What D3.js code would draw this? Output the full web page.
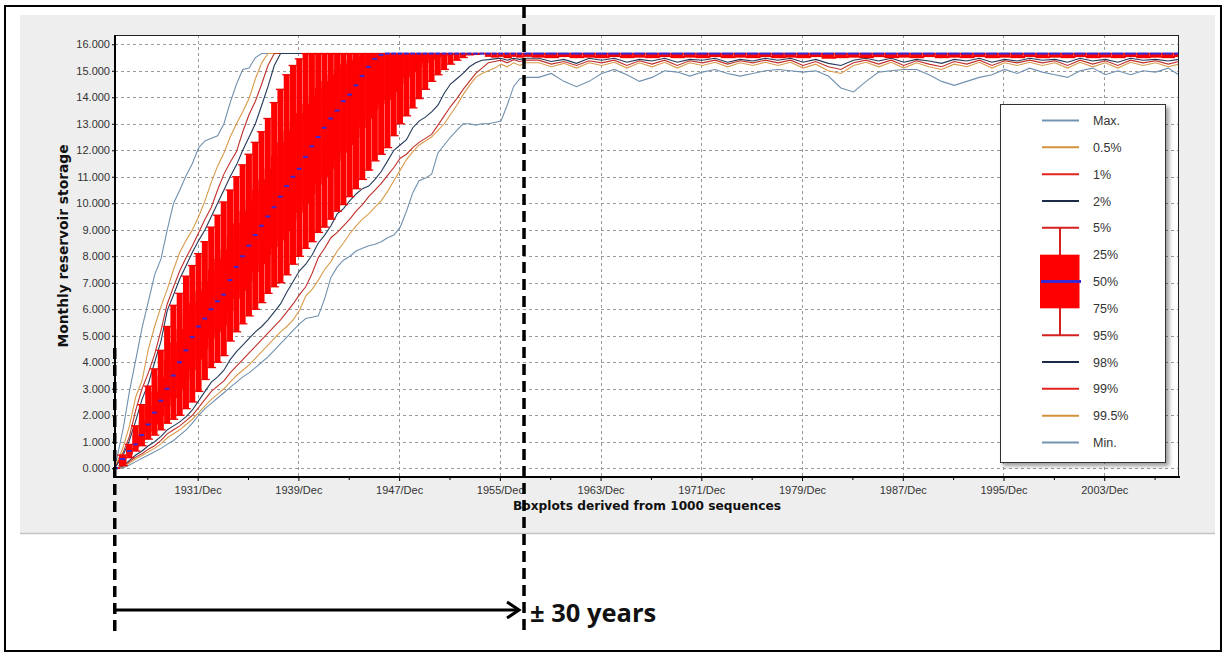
<!DOCTYPE html>
<html>
<head>
<meta charset="utf-8">
<script src="https://cdn.jsdelivr.net/npm/d3@7"></script>
<style>
  body { margin: 0; background: #fff; }
  svg { display: block; }
</style>
</head>
<body>
<svg id="chart" width="1227" height="657"></svg>
<script>
// sample dates: half-yearly while the reservoir fills, yearly once it is full
const dates = [
  '1925-05', '1926-01', '1926-07', '1927-01', '1927-07', '1928-01', '1928-07', '1929-01', '1929-07', '1930-01',
  '1930-07', '1931-01', '1931-07', '1932-01', '1932-07', '1933-01', '1933-07', '1934-01', '1934-07', '1935-01',
  '1935-07', '1936-01', '1936-07', '1937-01', '1937-07', '1938-01', '1938-07', '1939-01', '1939-07', '1940-01',
  '1940-07', '1941-01', '1941-07', '1942-01', '1942-07', '1943-01', '1943-07', '1944-01', '1944-07', '1945-01',
  '1945-07', '1946-01', '1946-07', '1947-01', '1947-07', '1948-01', '1948-07', '1949-01', '1949-07', '1950-01',
  '1950-07', '1951-01', '1951-07', '1952-01', '1952-07', '1953-01', '1953-07', '1954-01', '1954-07', '1955-01',
  '1955-07', '1956-01', '1956-07', '1957-01', '1957-07', '1958-01',
  '1959-01', '1960-01', '1961-01', '1962-01', '1963-01', '1964-01', '1965-01', '1966-01', '1967-01', '1968-01',
  '1969-01', '1970-01', '1971-01', '1972-01', '1973-01', '1974-01', '1975-01', '1976-01', '1977-01', '1978-01',
  '1979-01', '1980-01', '1981-01', '1982-01', '1983-01', '1984-01', '1985-01', '1986-01', '1987-01', '1988-01',
  '1989-01', '1990-01', '1991-01', '1992-01', '1993-01', '1994-01', '1995-01', '1996-01', '1997-01', '1998-01',
  '1999-01', '2000-01', '2001-01', '2002-01', '2003-01', '2004-01', '2005-01', '2006-01', '2007-01', '2008-01',
  '2009-01', '2009-11'
]

// storage, thousands
const pMax = [
  0, 1.5, 2.9, 4.1, 5.3, 6.3, 7.3, 7.9, 9.0, 10.0,
  10.5, 11.05, 11.5, 12.1, 12.35, 12.45, 12.55, 13.0, 13.8, 14.5,
  15.05, 15.1, 15.5, 15.65, 15.65, 15.65, 15.65, 15.65, 15.65, 15.65,
  15.65, 15.65, 15.65, 15.65, 15.65, 15.65, 15.65, 15.65, 15.65, 15.65,
  15.65, 15.65, 15.65, 15.65, 15.65, 15.65, 15.65, 15.65, 15.65, 15.65,
  15.65, 15.65, 15.65, 15.65, 15.65, 15.65, 15.65, 15.65, 15.65, 15.65,
  15.65, 15.65, 15.65, 15.65, 15.65, 15.65,
  15.65, 15.65, 15.65, 15.65, 15.65, 15.65, 15.65, 15.65, 15.65, 15.65,
  15.65, 15.65, 15.65, 15.65, 15.65, 15.65, 15.65, 15.65, 15.65, 15.65,
  15.65, 15.65, 15.65, 15.65, 15.65, 15.65, 15.65, 15.65, 15.65, 15.65,
  15.65, 15.65, 15.65, 15.65, 15.65, 15.65, 15.65, 15.65, 15.65, 15.65,
  15.65, 15.65, 15.65, 15.65, 15.65, 15.65, 15.65, 15.65, 15.65, 15.65,
  15.65, 15.65
]
const p0_5 = [
  0, 0.8, 1.6, 2.7, 3.3, 4.5, 5.35, 6.1, 6.75, 7.5,
  8.15, 8.6, 9.0, 9.5, 10.1, 10.8, 11.4, 11.9, 12.5, 13.0,
  13.45, 13.95, 14.7, 15.3, 15.65, 15.65, 15.65, 15.65, 15.65, 15.65,
  15.65, 15.65, 15.65, 15.65, 15.65, 15.65, 15.65, 15.65, 15.65, 15.65,
  15.65, 15.65, 15.65, 15.65, 15.65, 15.65, 15.65, 15.65, 15.65, 15.65,
  15.65, 15.65, 15.65, 15.65, 15.65, 15.65, 15.65, 15.65, 15.65, 15.65,
  15.65, 15.65, 15.65, 15.65, 15.65, 15.65,
  15.65, 15.65, 15.65, 15.65, 15.65, 15.65, 15.65, 15.65, 15.65, 15.65,
  15.65, 15.65, 15.65, 15.65, 15.65, 15.65, 15.65, 15.65, 15.65, 15.65,
  15.65, 15.65, 15.65, 15.65, 15.65, 15.65, 15.65, 15.65, 15.65, 15.65,
  15.65, 15.65, 15.65, 15.65, 15.65, 15.65, 15.65, 15.65, 15.65, 15.65,
  15.65, 15.65, 15.65, 15.65, 15.65, 15.65, 15.65, 15.65, 15.65, 15.65,
  15.65, 15.65
]
const p1 = [
  0, 0.6, 1.2, 2.2, 3.0, 3.6, 4.3, 5.2, 6.2, 6.85,
  7.45, 7.95, 8.4, 8.9, 9.4, 9.85, 10.5, 11.1, 11.55, 11.95,
  12.7, 13.35, 13.85, 14.5, 15.2, 15.65, 15.65, 15.65, 15.65, 15.65,
  15.65, 15.65, 15.65, 15.65, 15.65, 15.65, 15.65, 15.65, 15.65, 15.65,
  15.65, 15.65, 15.65, 15.65, 15.65, 15.65, 15.65, 15.65, 15.65, 15.65,
  15.65, 15.65, 15.65, 15.65, 15.65, 15.65, 15.65, 15.65, 15.65, 15.65,
  15.65, 15.65, 15.65, 15.65, 15.65, 15.65,
  15.65, 15.65, 15.65, 15.65, 15.65, 15.65, 15.65, 15.65, 15.65, 15.65,
  15.65, 15.65, 15.65, 15.65, 15.65, 15.65, 15.65, 15.65, 15.65, 15.65,
  15.65, 15.65, 15.65, 15.65, 15.65, 15.65, 15.65, 15.65, 15.65, 15.65,
  15.65, 15.65, 15.65, 15.65, 15.65, 15.65, 15.65, 15.65, 15.65, 15.65,
  15.65, 15.65, 15.65, 15.65, 15.65, 15.65, 15.65, 15.65, 15.65, 15.65,
  15.65, 15.65
]
const p2 = [
  0, 0.5, 1.05, 1.8, 2.6, 3.2, 4.0, 4.8, 5.95, 6.55,
  7.15, 7.65, 8.15, 8.6, 9.0, 9.5, 10.0, 10.5, 11.0, 11.45,
  12.0, 12.5, 13.0, 13.7, 14.4, 15.2, 15.65, 15.65, 15.65, 15.65,
  15.65, 15.65, 15.65, 15.65, 15.65, 15.65, 15.65, 15.65, 15.65, 15.65,
  15.65, 15.65, 15.65, 15.65, 15.65, 15.65, 15.65, 15.65, 15.65, 15.65,
  15.65, 15.65, 15.65, 15.65, 15.65, 15.65, 15.65, 15.65, 15.65, 15.65,
  15.65, 15.65, 15.65, 15.65, 15.65, 15.65,
  15.65, 15.65, 15.65, 15.65, 15.65, 15.65, 15.65, 15.65, 15.65, 15.65,
  15.65, 15.65, 15.65, 15.65, 15.65, 15.65, 15.65, 15.65, 15.65, 15.65,
  15.65, 15.65, 15.65, 15.65, 15.65, 15.65, 15.65, 15.65, 15.65, 15.65,
  15.65, 15.65, 15.65, 15.65, 15.65, 15.65, 15.65, 15.65, 15.65, 15.65,
  15.65, 15.65, 15.65, 15.65, 15.65, 15.65, 15.65, 15.65, 15.65, 15.65,
  15.65, 15.65
]
const p5 = [
  0, 0.5, 0.9, 1.6, 2.4, 3.1, 3.75, 4.45, 5.35, 6.15,
  6.6, 7.25, 7.65, 8.1, 8.55, 9.1, 9.55, 10.05, 10.5, 11.0,
  11.45, 11.85, 12.3, 12.7, 13.2, 13.8, 14.3, 14.85, 15.2, 15.45,
  15.65, 15.65, 15.65, 15.65, 15.65, 15.65, 15.65, 15.65, 15.65, 15.65,
  15.65, 15.65, 15.65, 15.65, 15.65, 15.65, 15.65, 15.65, 15.65, 15.65,
  15.65, 15.65, 15.65, 15.65, 15.65, 15.65, 15.65, 15.65, 15.65, 15.65,
  15.65, 15.65, 15.65, 15.65, 15.65, 15.65,
  15.65, 15.65, 15.65, 15.65, 15.65, 15.65, 15.65, 15.65, 15.65, 15.65,
  15.65, 15.65, 15.65, 15.65, 15.65, 15.65, 15.65, 15.65, 15.65, 15.65,
  15.65, 15.65, 15.65, 15.65, 15.65, 15.65, 15.65, 15.65, 15.65, 15.65,
  15.65, 15.65, 15.65, 15.65, 15.65, 15.65, 15.65, 15.65, 15.65, 15.65,
  15.65, 15.65, 15.65, 15.65, 15.65, 15.65, 15.65, 15.65, 15.65, 15.65,
  15.65, 15.65
]
const p25 = [
  0, 0.42, 0.78, 1.25, 1.8, 2.35, 2.9, 3.45, 4.1, 4.75,
  5.25, 5.8, 6.25, 6.7, 7.05, 7.5, 7.9, 8.25, 8.75, 9.25,
  9.7, 10.1, 10.5, 10.9, 11.3, 11.8, 12.3, 12.75, 13.1, 13.4,
  13.75, 14.05, 14.35, 14.6, 14.85, 15.05, 15.25, 15.4, 15.5, 15.58,
  15.63, 15.65, 15.65, 15.65, 15.65, 15.65, 15.65, 15.65, 15.65, 15.65,
  15.65, 15.65, 15.65, 15.65, 15.65, 15.65, 15.65, 15.65, 15.65, 15.65,
  15.65, 15.65, 15.65, 15.65, 15.65, 15.65,
  15.65, 15.65, 15.65, 15.65, 15.65, 15.65, 15.65, 15.65, 15.65, 15.65,
  15.65, 15.65, 15.65, 15.65, 15.65, 15.65, 15.65, 15.65, 15.65, 15.65,
  15.65, 15.65, 15.65, 15.65, 15.65, 15.65, 15.65, 15.65, 15.65, 15.65,
  15.65, 15.65, 15.65, 15.65, 15.65, 15.65, 15.65, 15.65, 15.65, 15.65,
  15.65, 15.65, 15.65, 15.65, 15.65, 15.65, 15.65, 15.65, 15.65, 15.65,
  15.65, 15.65
]
const p50 = [
  0, 0.35, 0.65, 0.9, 1.25, 1.65, 2.1, 2.55, 3.0, 3.5,
  4.0, 4.45, 4.95, 5.35, 5.65, 6.0, 6.3, 6.55, 7.1, 7.6,
  8.0, 8.4, 8.8, 9.15, 9.5, 9.85, 10.25, 10.65, 11.0, 11.3,
  11.75, 12.15, 12.5, 12.85, 13.2, 13.5, 13.85, 14.1, 14.45, 14.8,
  15.15, 15.45, 15.6, 15.65, 15.65, 15.65, 15.65, 15.65, 15.65, 15.65,
  15.65, 15.65, 15.65, 15.65, 15.65, 15.65, 15.65, 15.65, 15.65, 15.65,
  15.65, 15.65, 15.65, 15.65, 15.65, 15.65,
  15.65, 15.65, 15.65, 15.65, 15.65, 15.65, 15.65, 15.65, 15.65, 15.65,
  15.65, 15.65, 15.65, 15.65, 15.65, 15.65, 15.65, 15.65, 15.65, 15.65,
  15.65, 15.65, 15.65, 15.65, 15.65, 15.65, 15.65, 15.65, 15.65, 15.65,
  15.65, 15.65, 15.65, 15.65, 15.65, 15.65, 15.65, 15.65, 15.65, 15.65,
  15.65, 15.65, 15.65, 15.65, 15.65, 15.65, 15.65, 15.65, 15.65, 15.65,
  15.65, 15.65
]
const p75 = [
  0, 0.2, 0.52, 0.78, 1.05, 1.35, 1.65, 2.0, 2.35, 2.65,
  3.0, 3.35, 3.7, 4.1, 4.5, 4.9, 5.15, 5.4, 5.95, 6.4,
  6.7, 7.05, 7.4, 7.7, 8.05, 8.35, 8.6, 8.95, 9.35, 9.65,
  10.0, 10.35, 10.7, 11.0, 11.3, 11.6, 11.9, 12.2, 12.5, 12.85,
  13.2, 13.55, 13.75, 13.9, 14.2, 14.5, 14.75, 14.95, 15.15, 15.3,
  15.42, 15.5, 15.56, 15.6, 15.62, 15.64, 15.65, 15.65, 15.65, 15.65,
  15.65, 15.65, 15.65, 15.65, 15.65, 15.65,
  15.65, 15.65, 15.65, 15.65, 15.65, 15.65, 15.65, 15.65, 15.65, 15.65,
  15.65, 15.65, 15.65, 15.65, 15.65, 15.65, 15.65, 15.65, 15.65, 15.65,
  15.65, 15.65, 15.65, 15.65, 15.65, 15.65, 15.65, 15.65, 15.65, 15.65,
  15.65, 15.65, 15.65, 15.65, 15.65, 15.65, 15.65, 15.65, 15.65, 15.65,
  15.65, 15.65, 15.65, 15.65, 15.65, 15.65, 15.65, 15.65, 15.65, 15.65,
  15.65, 15.65
]
const p95 = [
  0, 0.1, 0.4, 0.65, 0.85, 1.1, 1.25, 1.45, 1.7, 1.85,
  2.0, 2.25, 2.5, 2.9, 3.35, 3.8, 4.0, 4.25, 4.8, 5.15,
  5.45, 5.75, 6.0, 6.25, 6.6, 6.85, 7.0, 7.3, 7.7, 8.0,
  8.3, 8.55, 8.9, 9.1, 9.4, 9.7, 9.95, 10.25, 10.55, 10.9,
  11.25, 11.6, 11.85, 12.1, 12.55, 13.0, 13.3, 13.6, 13.95, 14.3,
  14.6, 14.85, 15.05, 15.25, 15.4, 15.5, 15.6, 15.62, 15.65, 15.55,
  15.52, 15.55, 15.5, 15.55, 15.52, 15.55,
  15.52, 15.5, 15.54, 15.5, 15.52, 15.5, 15.54, 15.5, 15.52, 15.5,
  15.54, 15.5, 15.52, 15.5, 15.54, 15.5, 15.52, 15.5, 15.54, 15.5,
  15.52, 15.5, 15.54, 15.48, 15.5, 15.52, 15.5, 15.54, 15.5, 15.52,
  15.5, 15.54, 15.5, 15.52, 15.5, 15.54, 15.5, 15.52, 15.5, 15.54,
  15.5, 15.52, 15.5, 15.54, 15.5, 15.52, 15.5, 15.54, 15.5, 15.52,
  15.5, 15.54
]
const p98 = [
  0, 0.08, 0.3, 0.5, 0.65, 0.85, 1.0, 1.2, 1.45, 1.6,
  1.75, 1.95, 2.2, 2.55, 2.9, 3.25, 3.45, 3.7, 4.1, 4.4,
  4.65, 4.9, 5.15, 5.35, 5.6, 5.9, 6.2, 6.65, 7.05, 7.45,
  7.7, 8.05, 8.5, 8.8, 9.15, 9.6, 9.8, 10.1, 10.35, 10.55,
  10.65, 10.9, 11.2, 11.6, 12.0, 12.2, 12.4, 12.85, 13.1, 13.25,
  13.45, 13.7, 14.15, 14.5, 14.7, 14.9, 15.15, 15.3, 15.4, 15.42,
  15.45, 15.47, 15.4, 15.47, 15.43, 15.47,
  15.47, 15.35, 15.43, 15.28, 15.47, 15.4, 15.47, 15.32, 15.43, 15.37,
  15.47, 15.32, 15.43, 15.4, 15.47, 15.32, 15.43, 15.37, 15.47, 15.4,
  15.47, 15.32, 15.43, 15.28, 15.2, 15.4, 15.47, 15.37, 15.47, 15.32,
  15.43, 15.37, 15.28, 15.43, 15.37, 15.47, 15.32, 15.43, 15.37, 15.47,
  15.4, 15.43, 15.32, 15.47, 15.37, 15.43, 15.32, 15.47, 15.4, 15.43,
  15.37, 15.43
]
const p99 = [
  0, 0.06, 0.25, 0.42, 0.55, 0.72, 0.85, 1.05, 1.3, 1.45,
  1.6, 1.8, 2.0, 2.3, 2.6, 2.9, 3.1, 3.3, 3.6, 3.85,
  4.1, 4.35, 4.6, 4.85, 5.1, 5.35, 5.6, 5.9, 6.2, 6.55,
  6.85, 7.35, 7.95, 8.3, 8.7, 8.9, 9.15, 9.4, 9.7, 9.95,
  10.25, 10.5, 10.75, 11.05, 11.35, 11.7, 11.85, 12.1, 12.3, 12.45,
  12.6, 12.95, 13.3, 13.65, 13.95, 14.3, 14.6, 14.9, 15.1, 15.3,
  15.35, 15.4, 15.3, 15.42, 15.35, 15.4,
  15.4, 15.25, 15.35, 15.2, 15.38, 15.3, 15.4, 15.2, 15.38, 15.25,
  15.4, 15.2, 15.38, 15.3, 15.4, 15.25, 15.38, 15.3, 15.4, 15.3,
  15.4, 15.2, 15.35, 15.15, 15.05, 15.3, 15.4, 15.25, 15.4, 15.2,
  15.38, 15.25, 15.15, 15.35, 15.25, 15.4, 15.2, 15.38, 15.3, 15.4,
  15.3, 15.38, 15.2, 15.4, 15.25, 15.38, 15.2, 15.4, 15.3, 15.38,
  15.25, 15.35
]
const p99_5 = [
  0, 0.04, 0.2, 0.36, 0.48, 0.62, 0.75, 0.92, 1.15, 1.3,
  1.45, 1.65, 1.85, 2.1, 2.35, 2.6, 2.8, 3.0, 3.25, 3.5,
  3.7, 3.9, 4.15, 4.4, 4.65, 4.9, 5.15, 5.35, 5.6, 5.95,
  6.5, 6.75, 7.1, 7.5, 7.8, 8.2, 8.5, 8.85, 9.15, 9.4,
  9.6, 9.85, 10.1, 10.45, 10.85, 11.25, 11.65, 11.95, 12.2, 12.35,
  12.5, 12.75, 13.0, 13.35, 13.7, 14.1, 14.45, 14.75, 14.9, 15.0,
  15.1, 15.25, 15.15, 15.3, 15.2, 15.3,
  15.3, 15.15, 15.28, 15.1, 15.3, 15.2, 15.32, 15.1, 15.3, 15.15,
  15.32, 15.1, 15.3, 15.2, 15.32, 15.15, 15.3, 15.2, 15.32, 15.2,
  15.32, 15.1, 15.25, 15.0, 14.9, 15.2, 15.32, 15.15, 15.32, 15.1,
  15.3, 15.15, 15.05, 15.25, 15.15, 15.32, 15.1, 15.3, 15.2, 15.32,
  15.2, 15.3, 15.1, 15.32, 15.15, 15.3, 15.1, 15.32, 15.2, 15.3,
  15.15, 15.25
]
const pMin = [
  0, 0.02, 0.12, 0.25, 0.38, 0.5, 0.62, 0.75, 0.9, 1.05,
  1.25, 1.45, 1.7, 2.0, 2.25, 2.45, 2.65, 2.85, 3.05, 3.25,
  3.45, 3.6, 3.8, 4.0, 4.2, 4.45, 4.7, 4.95, 5.2, 5.45,
  5.65, 5.7, 5.75, 6.4, 7.2, 7.6, 7.85, 8.0, 8.2, 8.3,
  8.4, 8.45, 8.55, 8.7, 8.8, 9.1, 9.7, 10.4, 10.85, 10.95,
  11.1, 11.9, 12.2, 12.5, 12.75, 13.0, 13.0, 12.95, 13.0, 13.0,
  13.05, 13.1, 13.7, 14.4, 14.7, 14.75,
  14.75, 14.9, 14.6, 14.4, 14.6, 14.9, 15.05, 14.85, 14.6, 14.75,
  15.0, 14.95, 14.8, 14.95, 15.05, 14.9, 14.8, 14.9, 15.0, 15.05,
  15.0, 14.95, 15.0, 14.8, 14.35, 14.2, 14.6, 14.95, 15.0, 15.05,
  15.05, 14.85, 14.6, 14.45, 14.6, 14.75, 14.85, 15.05, 14.9, 15.1,
  14.95, 14.85, 14.75, 15.0, 15.1, 14.85, 15.0, 14.85, 15.0, 14.95,
  15.1, 14.85
]

const yTickValues = [0, 1, 2, 3, 4, 5, 6, 7, 8, 9, 10, 11, 12, 13, 14, 15, 16]
const xMajorTicks = ['1931-12', '1939-12', '1947-12', '1955-12', '1963-12', '1971-12', '1979-12', '1987-12', '1995-12', '2003-12']
const xMinorTicks = ['1927-12', '1935-12', '1943-12', '1951-12', '1959-12', '1967-12', '1975-12', '1983-12', '1991-12', '1999-12', '2007-12']
const legendLabels = ['Max.', '0.5%', '1%', '2%', '5%', '25%', '50%', '75%', '95%', '98%', '99%', '99.5%', 'Min.']
const spanDates = ['1925-05', '1957-11'] // the "± 30 years" filling period

const STEEL = '#7090ae'
const TAN = '#d99a4a'
const RED = '#c0302a'
const NAVY = '#24395a'

const lineSeries = [
  { name: 'Max.', values: pMax, color: STEEL, legend: '#7393b3' },
  { name: '0.5%', values: p0_5, color: TAN, legend: '#d4913a' },
  { name: '1%', values: p1, color: RED, legend: '#e3231c' },
  { name: '2%', values: p2, color: NAVY, legend: '#1c2c48' },
  { name: '98%', values: p98, color: NAVY, legend: '#1c2c48' },
  { name: '99%', values: p99, color: RED, legend: '#e3231c' },
  { name: '99.5%', values: p99_5, color: TAN, legend: '#d4913a' },
  { name: 'Min.', values: pMin, color: STEEL, legend: '#7393b3' }
]

const parseMonth = d3.timeParse('%Y-%m')
const dateObjs = dates.map(parseMonth)

const x = d3.scaleTime()
  .domain([new Date(1925, 4, 8), new Date(2009, 10, 8)])
  .range([115, 1179])
const y = d3.scaleLinear()
  .domain([-0.33, 16.35])
  .range([477, 35])

const svg = d3.select('#chart')
const defs = svg.append('defs')
defs.append('clipPath').attr('id', 'plot-clip')
  .append('rect').attr('x', 115).attr('y', 35).attr('width', 1064).attr('height', 442)
defs.append('filter').attr('id', 'shadow')
  .attr('x', '-10%').attr('y', '-10%').attr('width', '130%').attr('height', '130%')
  .append('feDropShadow')
  .attr('dx', 3).attr('dy', 3).attr('stdDeviation', 2)
  .attr('flood-color', '#000').attr('flood-opacity', 0.4)

// page frame + grey chart panel
svg.append('rect').attr('x', 5).attr('y', 6).attr('width', 1216).attr('height', 645)
  .attr('fill', '#fff').attr('stroke', '#000').attr('stroke-width', 2)
svg.append('rect').attr('x', 20).attr('y', 15).attr('width', 1195).attr('height', 518).attr('fill', '#eeeeee')
svg.append('line').attr('x1', 20).attr('x2', 1215).attr('y1', 533.5).attr('y2', 533.5)
  .attr('stroke', '#c4c4c4').attr('stroke-width', 1.5)
svg.append('rect').attr('x', 115).attr('y', 35).attr('width', 1064).attr('height', 442).attr('fill', '#fff')

// grid
const grid = svg.append('g').attr('stroke', '#9a9a9a').attr('stroke-width', 1).attr('stroke-dasharray', '3,3')
grid.append('g').selectAll('line').data(yTickValues).join('line')
  .attr('x1', 115).attr('x2', 1179)
  .attr('y1', d => Math.round(y(d)) + 0.5).attr('y2', d => Math.round(y(d)) + 0.5)
grid.append('g').selectAll('line').data(xMajorTicks.map(parseMonth)).join('line')
  .attr('x1', d => Math.round(x(d)) + 0.5).attr('x2', d => Math.round(x(d)) + 0.5)
  .attr('y1', 35).attr('y2', 477)

// data
const plot = svg.append('g').attr('clip-path', 'url(#plot-clip)')
const line = d3.line().x(d => x(d.date)).y(d => y(d.v))
lineSeries.forEach(s => {
  plot.append('path')
    .datum(dateObjs.map((d, i) => ({ date: d, v: s.values[i] })))
    .attr('d', line)
    .attr('fill', 'none')
    .attr('stroke', s.color)
    .attr('stroke-width', 1.1)
})

const xs = dateObjs.map(d => x(d))
const n = xs.length
const boxes = dateObjs.map((d, i) => ({
  cx: xs[i],
  xl: i > 0 ? (xs[i - 1] + xs[i]) / 2 : xs[i] - 3,
  xr: i < n - 1 ? (xs[i] + xs[i + 1]) / 2 : xs[i] + 8,
  hi: p5[i], q1: p25[i], med: p50[i], q3: p75[i], lo: p95[i]
}))
const bp = plot.append('g')
// whiskers leave a faint hairline between periods, boxes close up
bp.selectAll('rect.whisker').data(boxes).join('rect').attr('class', 'whisker')
  .attr('x', d => d.xl).attr('width', d => Math.max(0.5, d.xr - d.xl - 0.3))
  .attr('y', d => y(d.hi)).attr('height', d => Math.max(0.5, y(d.lo) - y(d.hi)))
  .attr('fill', '#ff0000')
bp.selectAll('rect.box').data(boxes).join('rect').attr('class', 'box')
  .attr('x', d => d.xl - 0.2).attr('width', d => d.xr - d.xl + 0.4)
  .attr('y', d => y(d.q1)).attr('height', d => Math.max(0, y(d.q3) - y(d.q1)))
  .attr('fill', '#ff0000')
bp.selectAll('line.cap-hi').data(boxes).join('line').attr('class', 'cap-hi')
  .attr('x1', d => d.xl - 1.5).attr('x2', d => d.xr + 0.5)
  .attr('y1', d => y(d.hi)).attr('y2', d => y(d.hi))
  .attr('stroke', '#ee0000').attr('stroke-width', 1.3)
bp.selectAll('line.cap-lo').data(boxes).join('line').attr('class', 'cap-lo')
  .attr('x1', d => d.xl - 0.5).attr('x2', d => d.xr + 1.5)
  .attr('y1', d => y(d.lo)).attr('y2', d => y(d.lo))
  .attr('stroke', '#ee0000').attr('stroke-width', 1.3)
bp.selectAll('rect.median').data(boxes).join('rect').attr('class', 'median')
  .attr('x', d => d.xl + 0.5).attr('width', d => Math.max(2, d.xr - d.xl - 1.5))
  .attr('y', d => y(d.med) - 1).attr('height', 2)
  .attr('fill', '#3a28d0')

// axes
const yAxis = svg.append('g').attr('transform', 'translate(115,0)')
  .call(d3.axisLeft(y).tickValues(yTickValues).tickSize(3).tickPadding(2).tickFormat(d3.format('.3f')))
yAxis.select('.domain').remove()
yAxis.selectAll('text').attr('font-family', '"Liberation Sans", Arial, sans-serif').attr('font-size', 11).attr('fill', '#333')

const xAxis = svg.append('g').attr('transform', 'translate(0,477)')
  .call(d3.axisBottom(x).tickValues(xMajorTicks.map(parseMonth)).tickSize(4).tickPadding(5).tickFormat(d3.timeFormat('%Y/%b')))
xAxis.select('.domain').remove()
xAxis.selectAll('text').attr('font-family', '"Liberation Sans", Arial, sans-serif').attr('font-size', 11).attr('fill', '#333')
const xMinor = svg.append('g').attr('transform', 'translate(0,477)')
  .call(d3.axisBottom(x).tickValues(xMinorTicks.map(parseMonth)).tickSize(3).tickFormat(''))
xMinor.select('.domain').remove()

// plot frame
svg.append('rect').attr('x', 115.5).attr('y', 35.5).attr('width', 1063).attr('height', 441)
  .attr('fill', 'none').attr('stroke', '#222').attr('stroke-width', 1)
svg.append('line').attr('x1', 115).attr('x2', 115).attr('y1', 35).attr('y2', 478)
  .attr('stroke', '#000').attr('stroke-width', 2)
svg.append('line').attr('x1', 114).attr('x2', 1180).attr('y1', 477).attr('y2', 477)
  .attr('stroke', '#000').attr('stroke-width', 2)

svg.append('text')
  .attr('transform', 'translate(68,246) rotate(-90)')
  .attr('text-anchor', 'middle')
  .attr('font-family', '"DejaVu Sans", sans-serif').attr('font-weight', 'bold').attr('font-size', 13.8)
  .attr('fill', '#111')
  .text('Monthly reservoir storage')
svg.append('text')
  .attr('x', 647).attr('y', 510)
  .attr('text-anchor', 'middle')
  .attr('font-family', '"DejaVu Sans", sans-serif').attr('font-weight', 'bold').attr('font-size', 12.2)
  .attr('fill', '#111')
  .text('Boxplots derived from 1000 sequences')

// legend
const legendY = d3.scalePoint().domain(legendLabels).range([120.5, 442.5])
const legend = svg.append('g')
legend.append('rect').attr('x', 1000.5).attr('y', 104.5).attr('width', 165).attr('height', 358)
  .attr('fill', '#fff').attr('stroke', '#333').attr('stroke-width', 1)
  .attr('filter', 'url(#shadow)')
lineSeries.forEach(s => {
  legend.append('line')
    .attr('x1', 1042).attr('x2', 1079)
    .attr('y1', legendY(s.name)).attr('y2', legendY(s.name))
    .attr('stroke', s.legend).attr('stroke-width', 2)
})
legend.append('line').attr('x1', 1060).attr('x2', 1060)
  .attr('y1', legendY('5%')).attr('y2', legendY('95%'))
  .attr('stroke', '#d42020').attr('stroke-width', 2)
legend.append('rect').attr('x', 1040).attr('width', 39.5)
  .attr('y', legendY('25%')).attr('height', legendY('75%') - legendY('25%'))
  .attr('fill', '#ff0000')
;['5%', '95%'].forEach(k => {
  legend.append('line').attr('x1', 1042).attr('x2', 1079)
    .attr('y1', legendY(k)).attr('y2', legendY(k))
    .attr('stroke', '#d42020').attr('stroke-width', 2)
})
legend.append('line').attr('x1', 1041).attr('x2', 1081)
  .attr('y1', legendY('50%')).attr('y2', legendY('50%'))
  .attr('stroke', '#3a28d0').attr('stroke-width', 3)
legend.selectAll('text').data(legendLabels).join('text')
  .attr('x', 1093).attr('y', d => legendY(d)).attr('dy', '0.36em')
  .attr('font-family', '"Liberation Sans", Arial, sans-serif').attr('font-size', 12.5)
  .attr('fill', '#333')
  .text(d => d)

// annotation: filling period
const spanX = spanDates.map(s => x(parseMonth(s)))
const ann = svg.append('g').attr('stroke', '#000')
ann.append('line').attr('x1', spanX[0]).attr('x2', spanX[0]).attr('y1', 348).attr('y2', 632)
  .attr('stroke-width', 3.5).attr('stroke-dasharray', '11,6')
ann.append('line').attr('x1', spanX[1]).attr('x2', spanX[1]).attr('y1', 7).attr('y2', 632)
  .attr('stroke-width', 3.5).attr('stroke-dasharray', '11,6')
ann.append('line').attr('x1', spanX[0]).attr('x2', spanX[1] - 5).attr('y1', 610).attr('y2', 610)
  .attr('stroke-width', 3)
ann.append('path')
  .attr('d', `M${spanX[1] - 17},602L${spanX[1] - 5},610L${spanX[1] - 17},618`)
  .attr('fill', 'none').attr('stroke-width', 3)
svg.append('text')
  .attr('x', spanX[1] + 6).attr('y', 622)
  .attr('font-family', '"Open Sans", sans-serif').attr('font-weight', 'bold').attr('font-size', 25.5)
  .attr('fill', '#111')
  .text('± 30 years')
</script>
</body>
</html>
